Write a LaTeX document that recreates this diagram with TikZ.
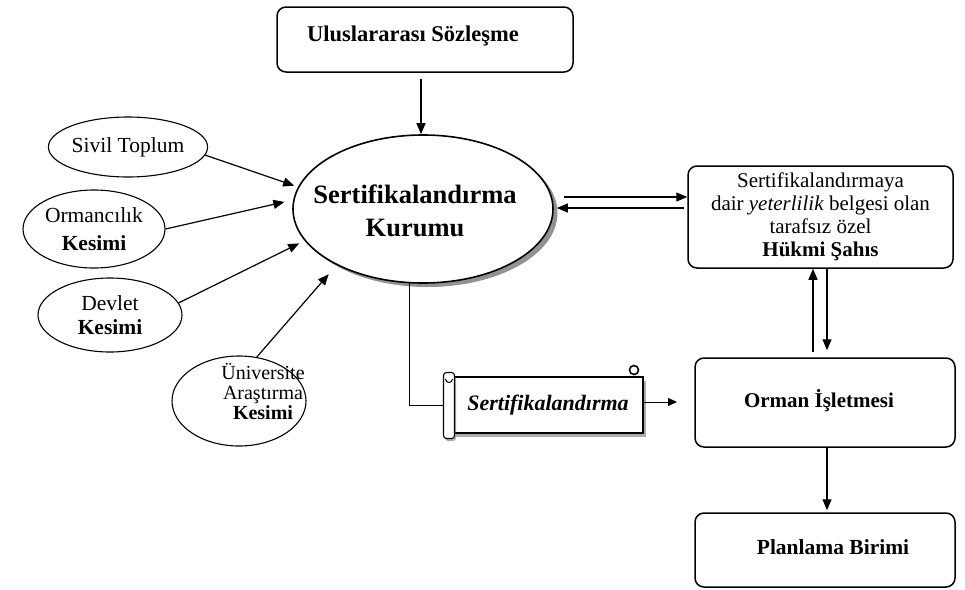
\documentclass[tikz,border=0pt]{standalone}
\usepackage{fontspec}
\setmainfont{Liberation Serif}
\usetikzlibrary{shapes.geometric,arrows.meta,shadows,calc}
\begin{document}
\begin{tikzpicture}[x=1pt,y=-1pt,
  rbox/.style={draw,rounded corners=9pt,line width=1.5pt,align=center,inner sep=0pt},
  oval/.style={draw,ellipse,line width=1.1pt,inner sep=0pt,align=center},
  arr/.style={-{Triangle[length=11pt,width=9pt]},line width=1.2pt},
  txt/.style={inner sep=0pt,align=center},
  reg/.style={font=\fontsize{21.5}{24}\selectfont}]
\useasboundingbox (0,0) rectangle (965,589);

% top box
\node[rbox,minimum width=296pt,minimum height=65pt] (ul) at (425,39.5) {};
\node[txt,font=\bfseries\fontsize{22.5}{24}\selectfont] (ult) at (413,36) {Uluslararası Sözleşme};

% central ellipse
\node[oval,line width=1.6pt,minimum width=260pt,minimum height=148pt,fill=white,
  drop shadow={shadow xshift=4.5pt,shadow yshift=-4pt,fill=black!85}] (sk) at (423,209) {};
\node[txt,font=\bfseries\fontsize{26.5}{33}\selectfont] (skt) at (415,211) {Sertifikalandırma\\Kurumu};

% small ellipses
\node[oval,reg,minimum width=140pt,minimum height=60pt] (sv) at (128,147) {Sivil Toplum};
\node[oval,font=\fontsize{21.5}{28}\selectfont,minimum width=142pt,minimum height=78pt] (om) at (94,229) {Ormancılık\\\textbf{Kesimi}};
\node[oval,reg,minimum width=144pt,minimum height=74pt] (dv) at (110,315) {Devlet\\\textbf{Kesimi}};
\node[oval,minimum width=134pt,minimum height=90pt] (un) at (239,401) {};
\node[txt,font=\fontsize{20}{20}\selectfont] (unt) at (263,391) {Üniversite\\Araştırma\\\textbf{Kesimi}};

% right boxes
\node[rbox,font=\fontsize{21}{23}\selectfont,minimum width=265pt,minimum height=102pt] (rb) at (820.5,217)
  {Sertifikalandırmaya\\dair \textit{yeterlilik} belgesi olan\\tarafsız özel\\\textbf{Hükmi Şahıs}};
\node[rbox,minimum width=260pt,minimum height=89pt] (ob) at (825,402.5) {};
\node[txt,font=\bfseries\fontsize{21}{24}\selectfont] (obt) at (819,401) {Orman İşletmesi};
\node[rbox,minimum width=260pt,minimum height=74pt] (pb) at (825,550) {};
\node[txt,font=\bfseries\fontsize{21.5}{24}\selectfont] (pbt) at (833,547) {Planlama Birimi};

% scroll
\node[draw,line width=1.1pt,fill=white,minimum width=190pt,minimum height=56pt,
  font=\bfseries\itshape\fontsize{22}{24}\selectfont,
  drop shadow={shadow xshift=3pt,shadow yshift=-4pt,fill=black!65}] (sc) at (548,405) {Sertifikalandırma};
\node[draw,line width=1.1pt,fill=white,rounded corners=3pt,minimum width=11pt,minimum height=66pt,inner sep=0pt,
  drop shadow={shadow xshift=1.5pt,shadow yshift=-2.5pt,fill=black!65}] (rl) at (449,405.5) {};
\draw[line width=1.6pt,fill=white] (634,370) circle (4.5);
\draw[line width=1pt] (445.5,379) arc (180:0:3.5);

% connectors
\draw[arr,shorten <=6pt] ([xshift=-4pt]ul.south) -- ([xshift=-4pt]ul.south |- sk.north);
\draw[arr,shorten >=4pt] (sv.-6) -- (sk.170);
\draw[arr,shorten >=9pt] (om.east) -- (sk.176);
\draw[arr,shorten >=6pt] (dv.10) -- (sk.195);
\draw[arr,shorten >=12pt] (un.68) -- (sk.213);

\draw[arr] ([xshift=10pt,yshift=12pt]sk.east) -- ([yshift=12pt]sk.east -| rb.west);
\draw[arr] ([xshift=-3pt,yshift=1pt]sk.east -| rb.west) -- ([xshift=3pt,yshift=1pt]sk.east);

\draw[arr,shorten <=5pt] ([xshift=-7.5pt]rb.south |- ob.north) -- ([xshift=-7.5pt]rb.south);
\draw[arr,shorten >=7pt] ([xshift=6.5pt]rb.south) -- ([xshift=6.5pt]rb.south |- ob.north);
\draw[arr,shorten >=2pt] ([xshift=2pt]ob.south) -- ([xshift=2pt]pb.north);

\draw[line width=0.9pt] (sk.260) |- (rl.west);
\coordinate (sce) at (677,402);
\draw[-{Triangle[length=9pt,width=8pt]},line width=1pt] (sc.east |- sce) -- (sce);
\end{tikzpicture}
\end{document}
